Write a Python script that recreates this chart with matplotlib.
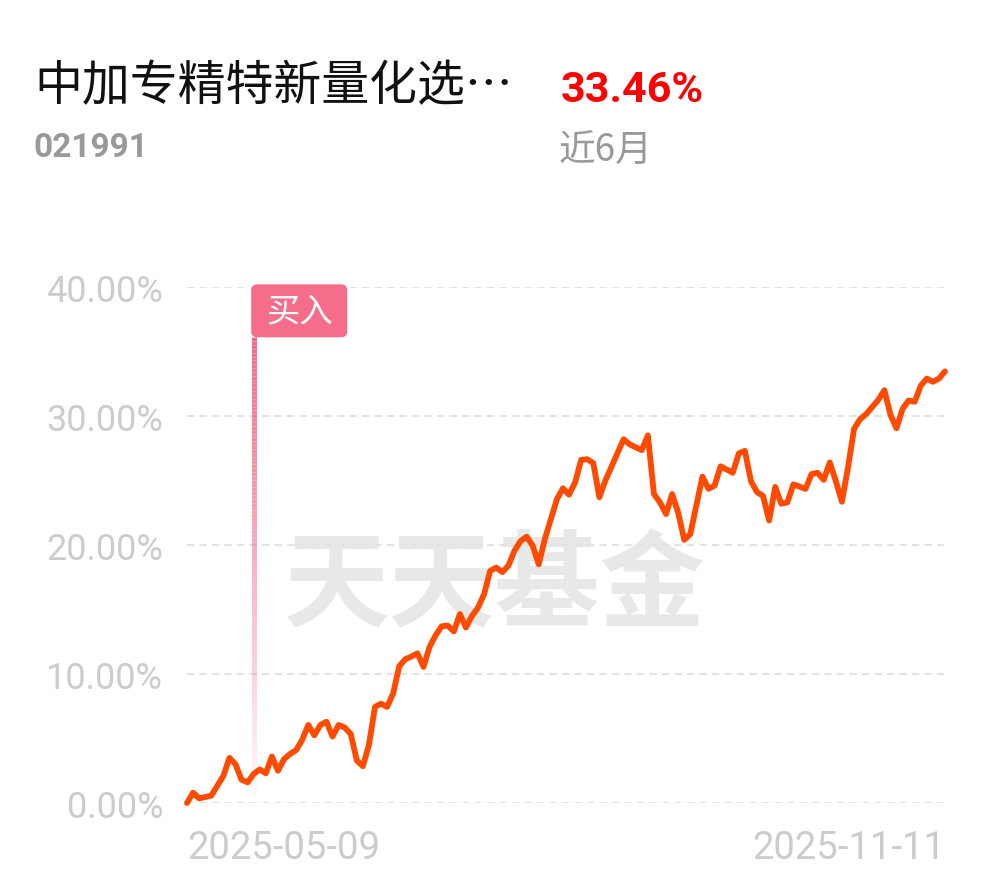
import matplotlib
matplotlib.use("Agg")
import matplotlib.pyplot as plt
import numpy as np
from matplotlib.collections import LineCollection
from matplotlib.patches import FancyBboxPatch
from matplotlib.transforms import ScaledTranslation

# --- datos ---
fund_name = "中加专精特新量化选…"
fund_code = "021991"
period_return = "33.46%"
period_label = "近6月"
watermark = "天天基金"
buy_label = "买入"

# índice de sesión (0 = 2025-05-09, 125 = 2025-11-11) y rentabilidad acumulada (%)
days = [0, 1, 2, 4, 6, 7, 8, 9, 10, 11, 12, 13, 14, 15, 16, 17, 18, 19, 20, 21,
        22, 23, 24, 25, 26, 27, 28, 29, 30, 31, 32, 33, 34, 35, 36, 37, 38, 39, 40, 41,
        42, 43, 44, 45, 46, 47, 48, 49, 50, 51, 52, 53, 54, 55, 56, 57, 58, 59, 61, 62,
        63, 64, 65, 66, 67, 68, 69, 72, 73, 75, 76, 77, 78, 79, 80, 81, 82, 83, 85, 86,
        87, 88, 90, 91, 92, 93, 94, 95, 96, 97, 98, 99, 100, 102, 103, 104, 105, 106, 107, 108,
        109, 110, 111, 112, 113, 114, 115, 116, 117, 118, 119, 120, 121, 122, 123, 124, 125]
returns = [0.0, 0.8, 0.36, 0.57, 2.1, 3.5, 3.0, 1.8, 1.6, 2.25, 2.6, 2.3, 3.6, 2.5, 3.4, 3.8, 4.1, 4.9, 6.05, 5.25,
           6.05, 6.3, 5.15, 6.05, 5.85, 5.35, 3.3, 2.85, 4.5, 7.45, 7.7, 7.45, 8.5, 10.6, 11.15, 11.35, 11.6, 10.55, 12.1, 13.0,
           13.7, 13.75, 13.3, 14.65, 13.6, 14.5, 15.15, 16.2, 18.0, 18.25, 17.9, 18.4, 19.55, 20.3, 20.65, 19.95, 18.5, 20.45, 23.55, 24.4,
           23.9, 24.85, 26.6, 26.65, 26.35, 23.7, 25.0, 28.2, 27.8, 27.35, 28.5, 23.95, 23.3, 22.4, 23.95, 22.5, 20.4, 20.85, 25.3, 24.35,
           24.6, 26.1, 25.6, 27.1, 27.3, 24.95, 24.1, 23.8, 21.9, 24.5, 23.2, 23.3, 24.7, 24.35, 25.5, 25.6, 25.05, 26.4, 24.95, 23.35,
           26.0, 29.0, 29.75, 30.15, 30.7, 31.25, 32.0, 30.1, 29.05, 30.55, 31.2, 31.1, 32.35, 32.9, 32.65, 32.9, 33.46]

y_ticks = [0, 10, 20, 30, 40]
x_ticks = [0, 125]
x_labels = ["2025-05-09", "2025-11-11"]

buy_day = 11
buy_range = [0.6, 36.1]  # extremo inferior / superior de la marca de compra

CJK = ["Noto Sans CJK SC", "DejaVu Sans"]
NUM = ["Roboto", "DejaVu Sans"]

W, H = 990, 878


def px(x, y):
    """Convierte pixeles a fracción de figura"""
    return x / W, 1 - y / H


def main():
    plt.rcParams["font.family"] = NUM
    fig = plt.figure(figsize=(W / 100, H / 100), dpi=100)
    ax = fig.add_axes([187 / W, 1 - 804 / H, (945 - 187) / W, (804 - 288) / H])

    # cabecera
    fig.text(*px(34, 100), fund_name, fontsize=34.5, family=CJK, color="#111111", va="baseline")
    fig.text(*px(33, 157), fund_code, fontsize=24, weight="bold", color="#999999", va="baseline")
    fig.text(*px(561, 102), period_return, fontsize=31, weight="bold", color="#ff0000", va="baseline")
    fig.text(*px(559, 161), period_label, fontsize=26.5, family=CJK, color="#999999", va="baseline")

    # marca de agua
    ax.text(0.406, 0.418, watermark, transform=ax.transAxes, fontsize=76, weight="bold",
            family=CJK, color="#e8e8e8", ha="center", va="center", zorder=0)

    # rejilla discontinua
    for v in y_ticks:
        ax.axhline(v, color="#e3e3e3", lw=1.5, ls=(0, (3.5, 2.5)), zorder=1)

    # línea de compra con degradado
    ys = np.linspace(buy_range[0], buy_range[1], 120)
    segs = [[(buy_day, ys[i]), (buy_day, ys[i + 1])] for i in range(len(ys) - 1)]
    alphas = np.linspace(0.03, 1.0, len(segs))
    cols = [(0.94, 0.42, 0.55, a) for a in alphas]
    lc = LineCollection(segs, colors=cols, linewidths=3.6, capstyle="butt", zorder=2)
    lc.set_clip_on(False)
    ax.add_collection(lc)

    # etiqueta "买入" anclada al extremo superior
    trans = fig.dpi_scale_trans + ScaledTranslation(buy_day, buy_range[1], ax.transData)
    box = FancyBboxPatch((-0.025, 0.0), 0.96, 0.53, boxstyle="round,pad=0,rounding_size=0.06",
                         transform=trans, facecolor="#f56d8b", edgecolor="none", zorder=4, clip_on=False)
    ax.add_patch(box)
    ax.text(0.455, 0.265, buy_label, transform=trans, fontsize=24, family=CJK, color="white",
            ha="center", va="center", zorder=5, clip_on=False)

    # rentabilidad acumulada
    ax.plot(days, returns, color="#ff4a00", lw=4.2, solid_joinstyle="round",
            solid_capstyle="round", zorder=3, clip_on=False)

    ax.set_xlim(0, 125)
    ax.set_ylim(0, 40)
    for s in ax.spines.values():
        s.set_visible(False)

    ax.set_yticks(y_ticks)
    ax.set_yticklabels([f"{v:.2f}%" for v in y_ticks])
    ax.tick_params(axis="y", length=0, pad=17, labelsize=26, labelcolor="#cccccc")
    ax.set_xticks(x_ticks)
    ax.set_xticklabels(x_labels)
    ax.tick_params(axis="x", length=0, pad=19, labelsize=27.5, labelcolor="#cccccc")
    for lbl, ha in zip(ax.get_xticklabels(), ["left", "right"]):
        lbl.set_ha(ha)

    fig.savefig("out.png", dpi=100)
    plt.close(fig)


if __name__ == "__main__":
    main()
